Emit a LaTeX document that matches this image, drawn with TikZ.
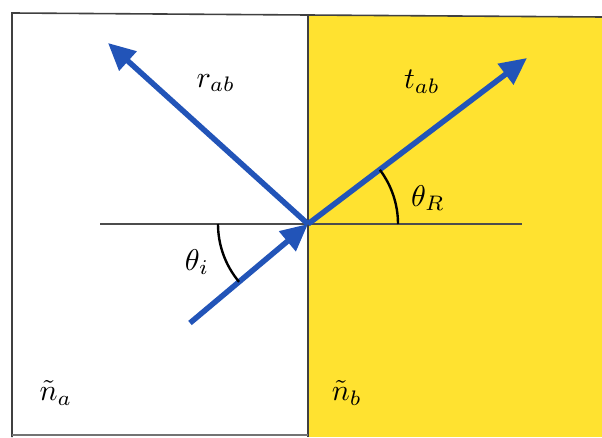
\documentclass[tikz,border=0pt]{standalone}
\usetikzlibrary{arrows.meta}
\definecolor{layeryellow}{RGB}{255,226,48}
\definecolor{raysblue}{RGB}{34,84,184}
\begin{document}
\begin{tikzpicture}[x=1pt,y=1pt,
  ray/.style={draw=raysblue, line width=5.5pt, -{Triangle[length=27pt,width=25pt]}},
  anglearc/.style={draw=black, line width=2.4pt},
  border/.style={draw=black!75, line width=1.6pt},
  lbl/.style={font=\normalsize, scale=3.0, inner sep=0pt}]
\useasboundingbox (0,0) rectangle (602,437);
% yellow medium
\fill[layeryellow] (308,0) rectangle (602,421);
% frame
\draw[border] (12,0) -- (12,424) -- (602,420);
\draw[border] (308,0) -- (308,422);
\draw[draw=black!55, line width=1.6pt] (12,2) -- (308,2);
% surface normal line
\coordinate (O) at (308,213);
\coordinate (L) at (100,213);
\coordinate (R) at (522,213);
\draw[draw=black!70, line width=1.4pt] (L) -- (R);
% rays
\coordinate (Tin) at (190,114);
\coordinate (Tr) at (108,394);
\coordinate (Tt) at (527,379);
\draw[ray] (Tin) -- (O);
\draw[ray] (O) -- (Tr);
\draw[ray] (O) -- (Tt);
% angle arcs
\draw[anglearc] (O) ++(180:90) arc[start angle=180, end angle=220, radius=90];
\draw[anglearc] (O) ++(0:90) arc[start angle=0, end angle=37, radius=90];
% labels
\node[lbl] (rab) at (216,354) {$r_{ab}$};
\node[lbl] (tab) at (422,355) {$t_{ab}$};
\node[lbl] (thR) at (428,239) {$\theta_R$};
\node[lbl] (thi) at (197,175) {$\theta_i$};
\node[lbl] (na) at (56,44) {$\tilde{n}_a$};
\node[lbl] (nb) at (347,44) {$\tilde{n}_b$};
\end{tikzpicture}
\end{document}
